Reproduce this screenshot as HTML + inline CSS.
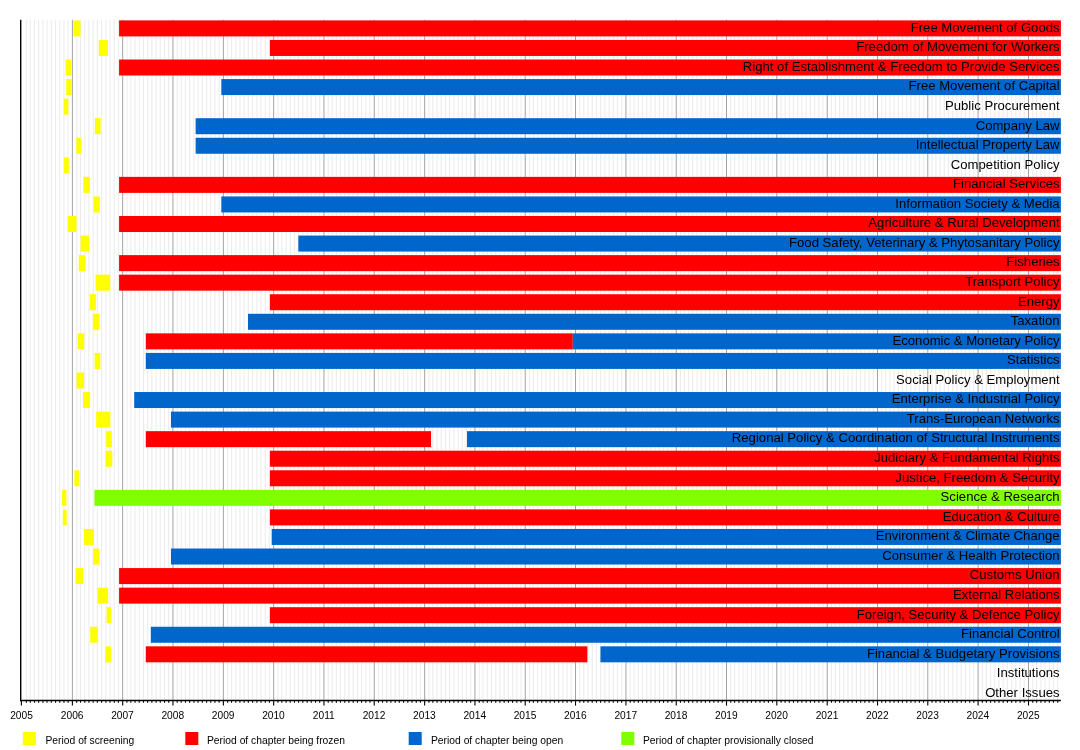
<!DOCTYPE html><html><head><meta charset="utf-8"><title>Timeline</title><style>html,body{margin:0;padding:0;background:#fff}svg{display:block}text{font-family:"Liberation Sans",sans-serif;fill:#000}</style></head><body>
<svg width="1080" height="750" viewBox="0 0 1080 750">
<rect width="1080" height="750" fill="#fff"/>
<g stroke="#ededed" stroke-width="1.1">
<line x1="26.37" y1="19.8" x2="26.37" y2="700.0"/>
<line x1="30.23" y1="19.8" x2="30.23" y2="700.0"/>
<line x1="34.50" y1="19.8" x2="34.50" y2="700.0"/>
<line x1="38.63" y1="19.8" x2="38.63" y2="700.0"/>
<line x1="42.90" y1="19.8" x2="42.90" y2="700.0"/>
<line x1="47.04" y1="19.8" x2="47.04" y2="700.0"/>
<line x1="51.31" y1="19.8" x2="51.31" y2="700.0"/>
<line x1="55.58" y1="19.8" x2="55.58" y2="700.0"/>
<line x1="59.71" y1="19.8" x2="59.71" y2="700.0"/>
<line x1="63.98" y1="19.8" x2="63.98" y2="700.0"/>
<line x1="68.11" y1="19.8" x2="68.11" y2="700.0"/>
<line x1="76.66" y1="19.8" x2="76.66" y2="700.0"/>
<line x1="80.51" y1="19.8" x2="80.51" y2="700.0"/>
<line x1="84.78" y1="19.8" x2="84.78" y2="700.0"/>
<line x1="88.92" y1="19.8" x2="88.92" y2="700.0"/>
<line x1="93.19" y1="19.8" x2="93.19" y2="700.0"/>
<line x1="97.32" y1="19.8" x2="97.32" y2="700.0"/>
<line x1="101.59" y1="19.8" x2="101.59" y2="700.0"/>
<line x1="105.86" y1="19.8" x2="105.86" y2="700.0"/>
<line x1="110.00" y1="19.8" x2="110.00" y2="700.0"/>
<line x1="114.27" y1="19.8" x2="114.27" y2="700.0"/>
<line x1="118.40" y1="19.8" x2="118.40" y2="700.0"/>
<line x1="126.94" y1="19.8" x2="126.94" y2="700.0"/>
<line x1="130.80" y1="19.8" x2="130.80" y2="700.0"/>
<line x1="135.07" y1="19.8" x2="135.07" y2="700.0"/>
<line x1="139.20" y1="19.8" x2="139.20" y2="700.0"/>
<line x1="143.47" y1="19.8" x2="143.47" y2="700.0"/>
<line x1="147.61" y1="19.8" x2="147.61" y2="700.0"/>
<line x1="151.88" y1="19.8" x2="151.88" y2="700.0"/>
<line x1="156.15" y1="19.8" x2="156.15" y2="700.0"/>
<line x1="160.28" y1="19.8" x2="160.28" y2="700.0"/>
<line x1="164.55" y1="19.8" x2="164.55" y2="700.0"/>
<line x1="168.69" y1="19.8" x2="168.69" y2="700.0"/>
<line x1="177.23" y1="19.8" x2="177.23" y2="700.0"/>
<line x1="181.22" y1="19.8" x2="181.22" y2="700.0"/>
<line x1="185.49" y1="19.8" x2="185.49" y2="700.0"/>
<line x1="189.63" y1="19.8" x2="189.63" y2="700.0"/>
<line x1="193.90" y1="19.8" x2="193.90" y2="700.0"/>
<line x1="198.03" y1="19.8" x2="198.03" y2="700.0"/>
<line x1="202.30" y1="19.8" x2="202.30" y2="700.0"/>
<line x1="206.57" y1="19.8" x2="206.57" y2="700.0"/>
<line x1="210.71" y1="19.8" x2="210.71" y2="700.0"/>
<line x1="214.98" y1="19.8" x2="214.98" y2="700.0"/>
<line x1="219.11" y1="19.8" x2="219.11" y2="700.0"/>
<line x1="227.65" y1="19.8" x2="227.65" y2="700.0"/>
<line x1="231.51" y1="19.8" x2="231.51" y2="700.0"/>
<line x1="235.78" y1="19.8" x2="235.78" y2="700.0"/>
<line x1="239.91" y1="19.8" x2="239.91" y2="700.0"/>
<line x1="244.18" y1="19.8" x2="244.18" y2="700.0"/>
<line x1="248.32" y1="19.8" x2="248.32" y2="700.0"/>
<line x1="252.59" y1="19.8" x2="252.59" y2="700.0"/>
<line x1="256.86" y1="19.8" x2="256.86" y2="700.0"/>
<line x1="260.99" y1="19.8" x2="260.99" y2="700.0"/>
<line x1="265.26" y1="19.8" x2="265.26" y2="700.0"/>
<line x1="269.39" y1="19.8" x2="269.39" y2="700.0"/>
<line x1="277.94" y1="19.8" x2="277.94" y2="700.0"/>
<line x1="281.79" y1="19.8" x2="281.79" y2="700.0"/>
<line x1="286.06" y1="19.8" x2="286.06" y2="700.0"/>
<line x1="290.20" y1="19.8" x2="290.20" y2="700.0"/>
<line x1="294.47" y1="19.8" x2="294.47" y2="700.0"/>
<line x1="298.60" y1="19.8" x2="298.60" y2="700.0"/>
<line x1="302.87" y1="19.8" x2="302.87" y2="700.0"/>
<line x1="307.14" y1="19.8" x2="307.14" y2="700.0"/>
<line x1="311.28" y1="19.8" x2="311.28" y2="700.0"/>
<line x1="315.55" y1="19.8" x2="315.55" y2="700.0"/>
<line x1="319.68" y1="19.8" x2="319.68" y2="700.0"/>
<line x1="328.22" y1="19.8" x2="328.22" y2="700.0"/>
<line x1="332.08" y1="19.8" x2="332.08" y2="700.0"/>
<line x1="336.35" y1="19.8" x2="336.35" y2="700.0"/>
<line x1="340.48" y1="19.8" x2="340.48" y2="700.0"/>
<line x1="344.75" y1="19.8" x2="344.75" y2="700.0"/>
<line x1="348.89" y1="19.8" x2="348.89" y2="700.0"/>
<line x1="353.16" y1="19.8" x2="353.16" y2="700.0"/>
<line x1="357.43" y1="19.8" x2="357.43" y2="700.0"/>
<line x1="361.56" y1="19.8" x2="361.56" y2="700.0"/>
<line x1="365.83" y1="19.8" x2="365.83" y2="700.0"/>
<line x1="369.97" y1="19.8" x2="369.97" y2="700.0"/>
<line x1="378.51" y1="19.8" x2="378.51" y2="700.0"/>
<line x1="382.50" y1="19.8" x2="382.50" y2="700.0"/>
<line x1="386.77" y1="19.8" x2="386.77" y2="700.0"/>
<line x1="390.91" y1="19.8" x2="390.91" y2="700.0"/>
<line x1="395.18" y1="19.8" x2="395.18" y2="700.0"/>
<line x1="399.31" y1="19.8" x2="399.31" y2="700.0"/>
<line x1="403.58" y1="19.8" x2="403.58" y2="700.0"/>
<line x1="407.85" y1="19.8" x2="407.85" y2="700.0"/>
<line x1="411.99" y1="19.8" x2="411.99" y2="700.0"/>
<line x1="416.26" y1="19.8" x2="416.26" y2="700.0"/>
<line x1="420.39" y1="19.8" x2="420.39" y2="700.0"/>
<line x1="428.93" y1="19.8" x2="428.93" y2="700.0"/>
<line x1="432.79" y1="19.8" x2="432.79" y2="700.0"/>
<line x1="437.06" y1="19.8" x2="437.06" y2="700.0"/>
<line x1="441.19" y1="19.8" x2="441.19" y2="700.0"/>
<line x1="445.46" y1="19.8" x2="445.46" y2="700.0"/>
<line x1="449.60" y1="19.8" x2="449.60" y2="700.0"/>
<line x1="453.87" y1="19.8" x2="453.87" y2="700.0"/>
<line x1="458.14" y1="19.8" x2="458.14" y2="700.0"/>
<line x1="462.27" y1="19.8" x2="462.27" y2="700.0"/>
<line x1="466.54" y1="19.8" x2="466.54" y2="700.0"/>
<line x1="470.67" y1="19.8" x2="470.67" y2="700.0"/>
<line x1="479.22" y1="19.8" x2="479.22" y2="700.0"/>
<line x1="483.07" y1="19.8" x2="483.07" y2="700.0"/>
<line x1="487.34" y1="19.8" x2="487.34" y2="700.0"/>
<line x1="491.48" y1="19.8" x2="491.48" y2="700.0"/>
<line x1="495.75" y1="19.8" x2="495.75" y2="700.0"/>
<line x1="499.88" y1="19.8" x2="499.88" y2="700.0"/>
<line x1="504.15" y1="19.8" x2="504.15" y2="700.0"/>
<line x1="508.42" y1="19.8" x2="508.42" y2="700.0"/>
<line x1="512.56" y1="19.8" x2="512.56" y2="700.0"/>
<line x1="516.83" y1="19.8" x2="516.83" y2="700.0"/>
<line x1="520.96" y1="19.8" x2="520.96" y2="700.0"/>
<line x1="529.50" y1="19.8" x2="529.50" y2="700.0"/>
<line x1="533.36" y1="19.8" x2="533.36" y2="700.0"/>
<line x1="537.63" y1="19.8" x2="537.63" y2="700.0"/>
<line x1="541.76" y1="19.8" x2="541.76" y2="700.0"/>
<line x1="546.03" y1="19.8" x2="546.03" y2="700.0"/>
<line x1="550.17" y1="19.8" x2="550.17" y2="700.0"/>
<line x1="554.44" y1="19.8" x2="554.44" y2="700.0"/>
<line x1="558.71" y1="19.8" x2="558.71" y2="700.0"/>
<line x1="562.84" y1="19.8" x2="562.84" y2="700.0"/>
<line x1="567.11" y1="19.8" x2="567.11" y2="700.0"/>
<line x1="571.25" y1="19.8" x2="571.25" y2="700.0"/>
<line x1="579.79" y1="19.8" x2="579.79" y2="700.0"/>
<line x1="583.78" y1="19.8" x2="583.78" y2="700.0"/>
<line x1="588.05" y1="19.8" x2="588.05" y2="700.0"/>
<line x1="592.19" y1="19.8" x2="592.19" y2="700.0"/>
<line x1="596.46" y1="19.8" x2="596.46" y2="700.0"/>
<line x1="600.59" y1="19.8" x2="600.59" y2="700.0"/>
<line x1="604.86" y1="19.8" x2="604.86" y2="700.0"/>
<line x1="609.13" y1="19.8" x2="609.13" y2="700.0"/>
<line x1="613.27" y1="19.8" x2="613.27" y2="700.0"/>
<line x1="617.54" y1="19.8" x2="617.54" y2="700.0"/>
<line x1="621.67" y1="19.8" x2="621.67" y2="700.0"/>
<line x1="630.21" y1="19.8" x2="630.21" y2="700.0"/>
<line x1="634.07" y1="19.8" x2="634.07" y2="700.0"/>
<line x1="638.34" y1="19.8" x2="638.34" y2="700.0"/>
<line x1="642.47" y1="19.8" x2="642.47" y2="700.0"/>
<line x1="646.74" y1="19.8" x2="646.74" y2="700.0"/>
<line x1="650.88" y1="19.8" x2="650.88" y2="700.0"/>
<line x1="655.15" y1="19.8" x2="655.15" y2="700.0"/>
<line x1="659.42" y1="19.8" x2="659.42" y2="700.0"/>
<line x1="663.55" y1="19.8" x2="663.55" y2="700.0"/>
<line x1="667.82" y1="19.8" x2="667.82" y2="700.0"/>
<line x1="671.95" y1="19.8" x2="671.95" y2="700.0"/>
<line x1="680.50" y1="19.8" x2="680.50" y2="700.0"/>
<line x1="684.35" y1="19.8" x2="684.35" y2="700.0"/>
<line x1="688.62" y1="19.8" x2="688.62" y2="700.0"/>
<line x1="692.76" y1="19.8" x2="692.76" y2="700.0"/>
<line x1="697.03" y1="19.8" x2="697.03" y2="700.0"/>
<line x1="701.16" y1="19.8" x2="701.16" y2="700.0"/>
<line x1="705.43" y1="19.8" x2="705.43" y2="700.0"/>
<line x1="709.70" y1="19.8" x2="709.70" y2="700.0"/>
<line x1="713.84" y1="19.8" x2="713.84" y2="700.0"/>
<line x1="718.11" y1="19.8" x2="718.11" y2="700.0"/>
<line x1="722.24" y1="19.8" x2="722.24" y2="700.0"/>
<line x1="730.78" y1="19.8" x2="730.78" y2="700.0"/>
<line x1="734.64" y1="19.8" x2="734.64" y2="700.0"/>
<line x1="738.91" y1="19.8" x2="738.91" y2="700.0"/>
<line x1="743.04" y1="19.8" x2="743.04" y2="700.0"/>
<line x1="747.31" y1="19.8" x2="747.31" y2="700.0"/>
<line x1="751.45" y1="19.8" x2="751.45" y2="700.0"/>
<line x1="755.72" y1="19.8" x2="755.72" y2="700.0"/>
<line x1="759.99" y1="19.8" x2="759.99" y2="700.0"/>
<line x1="764.12" y1="19.8" x2="764.12" y2="700.0"/>
<line x1="768.39" y1="19.8" x2="768.39" y2="700.0"/>
<line x1="772.53" y1="19.8" x2="772.53" y2="700.0"/>
<line x1="781.07" y1="19.8" x2="781.07" y2="700.0"/>
<line x1="785.06" y1="19.8" x2="785.06" y2="700.0"/>
<line x1="789.33" y1="19.8" x2="789.33" y2="700.0"/>
<line x1="793.47" y1="19.8" x2="793.47" y2="700.0"/>
<line x1="797.74" y1="19.8" x2="797.74" y2="700.0"/>
<line x1="801.87" y1="19.8" x2="801.87" y2="700.0"/>
<line x1="806.14" y1="19.8" x2="806.14" y2="700.0"/>
<line x1="810.41" y1="19.8" x2="810.41" y2="700.0"/>
<line x1="814.55" y1="19.8" x2="814.55" y2="700.0"/>
<line x1="818.82" y1="19.8" x2="818.82" y2="700.0"/>
<line x1="822.95" y1="19.8" x2="822.95" y2="700.0"/>
<line x1="831.49" y1="19.8" x2="831.49" y2="700.0"/>
<line x1="835.35" y1="19.8" x2="835.35" y2="700.0"/>
<line x1="839.62" y1="19.8" x2="839.62" y2="700.0"/>
<line x1="843.75" y1="19.8" x2="843.75" y2="700.0"/>
<line x1="848.02" y1="19.8" x2="848.02" y2="700.0"/>
<line x1="852.16" y1="19.8" x2="852.16" y2="700.0"/>
<line x1="856.43" y1="19.8" x2="856.43" y2="700.0"/>
<line x1="860.70" y1="19.8" x2="860.70" y2="700.0"/>
<line x1="864.83" y1="19.8" x2="864.83" y2="700.0"/>
<line x1="869.10" y1="19.8" x2="869.10" y2="700.0"/>
<line x1="873.23" y1="19.8" x2="873.23" y2="700.0"/>
<line x1="881.78" y1="19.8" x2="881.78" y2="700.0"/>
<line x1="885.63" y1="19.8" x2="885.63" y2="700.0"/>
<line x1="889.90" y1="19.8" x2="889.90" y2="700.0"/>
<line x1="894.04" y1="19.8" x2="894.04" y2="700.0"/>
<line x1="898.31" y1="19.8" x2="898.31" y2="700.0"/>
<line x1="902.44" y1="19.8" x2="902.44" y2="700.0"/>
<line x1="906.71" y1="19.8" x2="906.71" y2="700.0"/>
<line x1="910.98" y1="19.8" x2="910.98" y2="700.0"/>
<line x1="915.12" y1="19.8" x2="915.12" y2="700.0"/>
<line x1="919.39" y1="19.8" x2="919.39" y2="700.0"/>
<line x1="923.52" y1="19.8" x2="923.52" y2="700.0"/>
<line x1="932.06" y1="19.8" x2="932.06" y2="700.0"/>
<line x1="935.92" y1="19.8" x2="935.92" y2="700.0"/>
<line x1="940.19" y1="19.8" x2="940.19" y2="700.0"/>
<line x1="944.32" y1="19.8" x2="944.32" y2="700.0"/>
<line x1="948.59" y1="19.8" x2="948.59" y2="700.0"/>
<line x1="952.73" y1="19.8" x2="952.73" y2="700.0"/>
<line x1="957.00" y1="19.8" x2="957.00" y2="700.0"/>
<line x1="961.27" y1="19.8" x2="961.27" y2="700.0"/>
<line x1="965.40" y1="19.8" x2="965.40" y2="700.0"/>
<line x1="969.67" y1="19.8" x2="969.67" y2="700.0"/>
<line x1="973.81" y1="19.8" x2="973.81" y2="700.0"/>
<line x1="982.35" y1="19.8" x2="982.35" y2="700.0"/>
<line x1="986.34" y1="19.8" x2="986.34" y2="700.0"/>
<line x1="990.61" y1="19.8" x2="990.61" y2="700.0"/>
<line x1="994.75" y1="19.8" x2="994.75" y2="700.0"/>
<line x1="999.02" y1="19.8" x2="999.02" y2="700.0"/>
<line x1="1003.15" y1="19.8" x2="1003.15" y2="700.0"/>
<line x1="1007.42" y1="19.8" x2="1007.42" y2="700.0"/>
<line x1="1011.69" y1="19.8" x2="1011.69" y2="700.0"/>
<line x1="1015.83" y1="19.8" x2="1015.83" y2="700.0"/>
<line x1="1020.10" y1="19.8" x2="1020.10" y2="700.0"/>
<line x1="1024.23" y1="19.8" x2="1024.23" y2="700.0"/>
<line x1="1032.77" y1="19.8" x2="1032.77" y2="700.0"/>
<line x1="1036.63" y1="19.8" x2="1036.63" y2="700.0"/>
<line x1="1040.90" y1="19.8" x2="1040.90" y2="700.0"/>
<line x1="1045.03" y1="19.8" x2="1045.03" y2="700.0"/>
<line x1="1049.30" y1="19.8" x2="1049.30" y2="700.0"/>
<line x1="1053.44" y1="19.8" x2="1053.44" y2="700.0"/>
<line x1="1057.71" y1="19.8" x2="1057.71" y2="700.0"/>
</g>
<g stroke="#999" stroke-width="0.9">
<line x1="72.39" y1="19.8" x2="72.39" y2="700.0"/>
<line x1="122.67" y1="19.8" x2="122.67" y2="700.0"/>
<line x1="172.96" y1="19.8" x2="172.96" y2="700.0"/>
<line x1="223.38" y1="19.8" x2="223.38" y2="700.0"/>
<line x1="273.67" y1="19.8" x2="273.67" y2="700.0"/>
<line x1="323.95" y1="19.8" x2="323.95" y2="700.0"/>
<line x1="374.24" y1="19.8" x2="374.24" y2="700.0"/>
<line x1="424.66" y1="19.8" x2="424.66" y2="700.0"/>
<line x1="474.95" y1="19.8" x2="474.95" y2="700.0"/>
<line x1="525.23" y1="19.8" x2="525.23" y2="700.0"/>
<line x1="575.52" y1="19.8" x2="575.52" y2="700.0"/>
<line x1="625.94" y1="19.8" x2="625.94" y2="700.0"/>
<line x1="676.23" y1="19.8" x2="676.23" y2="700.0"/>
<line x1="726.51" y1="19.8" x2="726.51" y2="700.0"/>
<line x1="776.80" y1="19.8" x2="776.80" y2="700.0"/>
<line x1="827.22" y1="19.8" x2="827.22" y2="700.0"/>
<line x1="877.51" y1="19.8" x2="877.51" y2="700.0"/>
<line x1="927.79" y1="19.8" x2="927.79" y2="700.0"/>
<line x1="978.08" y1="19.8" x2="978.08" y2="700.0"/>
<line x1="1028.50" y1="19.8" x2="1028.50" y2="700.0"/>
</g>
<rect x="73.39" y="20.40" width="7.08" height="16.0" fill="#ffff00"/>
<rect x="119.09" y="20.40" width="941.81" height="16.0" fill="#ff0000"/>
<rect x="98.76" y="39.96" width="9.14" height="16.0" fill="#ffff00"/>
<rect x="269.90" y="39.96" width="791.00" height="16.0" fill="#ff0000"/>
<rect x="65.67" y="59.52" width="5.70" height="16.0" fill="#ffff00"/>
<rect x="119.09" y="59.52" width="941.81" height="16.0" fill="#ff0000"/>
<rect x="66.22" y="79.08" width="5.42" height="16.0" fill="#ffff00"/>
<rect x="221.31" y="79.08" width="839.59" height="16.0" fill="#0066cc"/>
<rect x="63.74" y="98.64" width="4.60" height="16.0" fill="#ffff00"/>
<rect x="94.90" y="118.20" width="5.70" height="16.0" fill="#ffff00"/>
<rect x="195.63" y="118.20" width="865.27" height="16.0" fill="#0066cc"/>
<rect x="76.28" y="137.76" width="5.15" height="16.0" fill="#ffff00"/>
<rect x="195.63" y="137.76" width="865.27" height="16.0" fill="#0066cc"/>
<rect x="63.88" y="157.32" width="5.01" height="16.0" fill="#ffff00"/>
<rect x="83.31" y="176.88" width="6.53" height="16.0" fill="#ffff00"/>
<rect x="119.09" y="176.88" width="941.81" height="16.0" fill="#ff0000"/>
<rect x="93.65" y="196.44" width="6.11" height="16.0" fill="#ffff00"/>
<rect x="221.31" y="196.44" width="839.59" height="16.0" fill="#0066cc"/>
<rect x="67.60" y="216.00" width="8.87" height="16.0" fill="#ffff00"/>
<rect x="119.09" y="216.00" width="941.81" height="16.0" fill="#ff0000"/>
<rect x="80.56" y="235.56" width="8.59" height="16.0" fill="#ffff00"/>
<rect x="298.35" y="235.56" width="762.55" height="16.0" fill="#0066cc"/>
<rect x="78.77" y="255.12" width="6.53" height="16.0" fill="#ffff00"/>
<rect x="119.09" y="255.12" width="941.81" height="16.0" fill="#ff0000"/>
<rect x="95.58" y="274.68" width="14.66" height="16.0" fill="#ffff00"/>
<rect x="119.09" y="274.68" width="941.81" height="16.0" fill="#ff0000"/>
<rect x="89.79" y="294.24" width="6.11" height="16.0" fill="#ffff00"/>
<rect x="269.90" y="294.24" width="791.00" height="16.0" fill="#ff0000"/>
<rect x="92.83" y="313.80" width="6.66" height="16.0" fill="#ffff00"/>
<rect x="248.00" y="313.80" width="812.90" height="16.0" fill="#0066cc"/>
<rect x="77.66" y="333.36" width="6.53" height="16.0" fill="#ffff00"/>
<rect x="145.78" y="333.36" width="427.01" height="16.0" fill="#ff0000"/>
<rect x="572.79" y="333.36" width="488.11" height="16.0" fill="#0066cc"/>
<rect x="94.62" y="352.92" width="5.70" height="16.0" fill="#ffff00"/>
<rect x="145.78" y="352.92" width="915.12" height="16.0" fill="#0066cc"/>
<rect x="76.56" y="372.48" width="7.49" height="16.0" fill="#ffff00"/>
<rect x="83.04" y="392.04" width="7.08" height="16.0" fill="#ffff00"/>
<rect x="134.20" y="392.04" width="926.70" height="16.0" fill="#0066cc"/>
<rect x="96.14" y="411.60" width="14.25" height="16.0" fill="#ffff00"/>
<rect x="170.95" y="411.60" width="889.95" height="16.0" fill="#0066cc"/>
<rect x="106.20" y="431.16" width="5.70" height="16.0" fill="#ffff00"/>
<rect x="145.78" y="431.16" width="285.26" height="16.0" fill="#ff0000"/>
<rect x="467.04" y="431.16" width="593.86" height="16.0" fill="#0066cc"/>
<rect x="105.65" y="450.72" width="6.66" height="16.0" fill="#ffff00"/>
<rect x="269.90" y="450.72" width="791.00" height="16.0" fill="#ff0000"/>
<rect x="74.35" y="470.28" width="4.87" height="16.0" fill="#ffff00"/>
<rect x="269.90" y="470.28" width="791.00" height="16.0" fill="#ff0000"/>
<rect x="61.95" y="489.84" width="4.46" height="16.0" fill="#ffff00"/>
<rect x="94.41" y="489.84" width="966.49" height="16.0" fill="#80ff00"/>
<rect x="62.77" y="509.40" width="3.91" height="16.0" fill="#ffff00"/>
<rect x="269.90" y="509.40" width="791.00" height="16.0" fill="#ff0000"/>
<rect x="84.00" y="528.96" width="9.97" height="16.0" fill="#ffff00"/>
<rect x="271.66" y="528.96" width="789.24" height="16.0" fill="#0066cc"/>
<rect x="93.10" y="548.52" width="6.25" height="16.0" fill="#ffff00"/>
<rect x="170.95" y="548.52" width="889.95" height="16.0" fill="#0066cc"/>
<rect x="75.46" y="568.08" width="7.49" height="16.0" fill="#ffff00"/>
<rect x="119.09" y="568.08" width="941.81" height="16.0" fill="#ff0000"/>
<rect x="97.51" y="587.64" width="10.66" height="16.0" fill="#ffff00"/>
<rect x="119.09" y="587.64" width="941.81" height="16.0" fill="#ff0000"/>
<rect x="106.61" y="607.20" width="4.73" height="16.0" fill="#ffff00"/>
<rect x="269.90" y="607.20" width="791.00" height="16.0" fill="#ff0000"/>
<rect x="90.21" y="626.76" width="7.63" height="16.0" fill="#ffff00"/>
<rect x="150.81" y="626.76" width="910.09" height="16.0" fill="#0066cc"/>
<rect x="105.51" y="646.32" width="5.56" height="16.0" fill="#ffff00"/>
<rect x="145.78" y="646.32" width="441.61" height="16.0" fill="#ff0000"/>
<rect x="600.48" y="646.32" width="460.42" height="16.0" fill="#0066cc"/>
<g font-size="12.5" text-anchor="end">
<text transform="translate(1059.6,31.70) scale(1.052,1)">Free Movement of Goods</text>
<text transform="translate(1059.6,51.26) scale(1.052,1)">Freedom of Movement for Workers</text>
<text transform="translate(1059.6,70.82) scale(1.052,1)">Right of Establishment &amp; Freedom to Provide Services</text>
<text transform="translate(1059.6,90.38) scale(1.052,1)">Free Movement of Capital</text>
<text transform="translate(1059.6,109.94) scale(1.052,1)">Public Procurement</text>
<text transform="translate(1059.6,129.50) scale(1.052,1)">Company Law</text>
<text transform="translate(1059.6,149.06) scale(1.052,1)">Intellectual Property Law</text>
<text transform="translate(1059.6,168.62) scale(1.052,1)">Competition Policy</text>
<text transform="translate(1059.6,188.18) scale(1.052,1)">Financial Services</text>
<text transform="translate(1059.6,207.74) scale(1.052,1)">Information Society &amp; Media</text>
<text transform="translate(1059.6,227.30) scale(1.052,1)">Agriculture &amp; Rural Development</text>
<text transform="translate(1059.6,246.86) scale(1.052,1)">Food Safety, Veterinary &amp; Phytosanitary Policy</text>
<text transform="translate(1059.6,266.42) scale(1.052,1)">Fisheries</text>
<text transform="translate(1059.6,285.98) scale(1.052,1)">Transport Policy</text>
<text transform="translate(1059.6,305.54) scale(1.052,1)">Energy</text>
<text transform="translate(1059.6,325.10) scale(1.052,1)">Taxation</text>
<text transform="translate(1059.6,344.66) scale(1.052,1)">Economic &amp; Monetary Policy</text>
<text transform="translate(1059.6,364.22) scale(1.052,1)">Statistics</text>
<text transform="translate(1059.6,383.78) scale(1.052,1)">Social Policy &amp; Employment</text>
<text transform="translate(1059.6,403.34) scale(1.052,1)">Enterprise &amp; Industrial Policy</text>
<text transform="translate(1059.6,422.90) scale(1.052,1)">Trans-European Networks</text>
<text transform="translate(1059.6,442.46) scale(1.052,1)">Regional Policy &amp; Coordination of Structural Instruments</text>
<text transform="translate(1059.6,462.02) scale(1.052,1)">Judiciary &amp; Fundamental Rights</text>
<text transform="translate(1059.6,481.58) scale(1.052,1)">Justice, Freedom &amp; Security</text>
<text transform="translate(1059.6,501.14) scale(1.052,1)">Science &amp; Research</text>
<text transform="translate(1059.6,520.70) scale(1.052,1)">Education &amp; Culture</text>
<text transform="translate(1059.6,540.26) scale(1.052,1)">Environment &amp; Climate Change</text>
<text transform="translate(1059.6,559.82) scale(1.052,1)">Consumer &amp; Health Protection</text>
<text transform="translate(1059.6,579.38) scale(1.052,1)">Customs Union</text>
<text transform="translate(1059.6,598.94) scale(1.052,1)">External Relations</text>
<text transform="translate(1059.6,618.50) scale(1.052,1)">Foreign, Security &amp; Defence Policy</text>
<text transform="translate(1059.6,638.06) scale(1.052,1)">Financial Control</text>
<text transform="translate(1059.6,657.62) scale(1.052,1)">Financial &amp; Budgetary Provisions</text>
<text transform="translate(1059.6,677.18) scale(1.052,1)">Institutions</text>
<text transform="translate(1059.6,696.74) scale(1.052,1)">Other Issues</text>
</g>
<line x1="20.7" y1="19.8" x2="20.7" y2="701.2" stroke="#000" stroke-width="1.4"/>
<line x1="20" y1="700.5" x2="1060.9" y2="700.5" stroke="#000" stroke-width="1.4"/>
<g stroke="#000" stroke-width="1.1">
<line x1="21.40" y1="700.0" x2="21.40" y2="705.6"/>
<line x1="26.37" y1="700.0" x2="26.37" y2="702.7"/>
<line x1="30.23" y1="700.0" x2="30.23" y2="702.7"/>
<line x1="34.50" y1="700.0" x2="34.50" y2="702.7"/>
<line x1="38.63" y1="700.0" x2="38.63" y2="702.7"/>
<line x1="42.90" y1="700.0" x2="42.90" y2="702.7"/>
<line x1="47.04" y1="700.0" x2="47.04" y2="702.7"/>
<line x1="51.31" y1="700.0" x2="51.31" y2="702.7"/>
<line x1="55.58" y1="700.0" x2="55.58" y2="702.7"/>
<line x1="59.71" y1="700.0" x2="59.71" y2="702.7"/>
<line x1="63.98" y1="700.0" x2="63.98" y2="702.7"/>
<line x1="68.11" y1="700.0" x2="68.11" y2="702.7"/>
<line x1="72.39" y1="700.0" x2="72.39" y2="705.6"/>
<line x1="76.66" y1="700.0" x2="76.66" y2="702.7"/>
<line x1="80.51" y1="700.0" x2="80.51" y2="702.7"/>
<line x1="84.78" y1="700.0" x2="84.78" y2="702.7"/>
<line x1="88.92" y1="700.0" x2="88.92" y2="702.7"/>
<line x1="93.19" y1="700.0" x2="93.19" y2="702.7"/>
<line x1="97.32" y1="700.0" x2="97.32" y2="702.7"/>
<line x1="101.59" y1="700.0" x2="101.59" y2="702.7"/>
<line x1="105.86" y1="700.0" x2="105.86" y2="702.7"/>
<line x1="110.00" y1="700.0" x2="110.00" y2="702.7"/>
<line x1="114.27" y1="700.0" x2="114.27" y2="702.7"/>
<line x1="118.40" y1="700.0" x2="118.40" y2="702.7"/>
<line x1="122.67" y1="700.0" x2="122.67" y2="705.6"/>
<line x1="126.94" y1="700.0" x2="126.94" y2="702.7"/>
<line x1="130.80" y1="700.0" x2="130.80" y2="702.7"/>
<line x1="135.07" y1="700.0" x2="135.07" y2="702.7"/>
<line x1="139.20" y1="700.0" x2="139.20" y2="702.7"/>
<line x1="143.47" y1="700.0" x2="143.47" y2="702.7"/>
<line x1="147.61" y1="700.0" x2="147.61" y2="702.7"/>
<line x1="151.88" y1="700.0" x2="151.88" y2="702.7"/>
<line x1="156.15" y1="700.0" x2="156.15" y2="702.7"/>
<line x1="160.28" y1="700.0" x2="160.28" y2="702.7"/>
<line x1="164.55" y1="700.0" x2="164.55" y2="702.7"/>
<line x1="168.69" y1="700.0" x2="168.69" y2="702.7"/>
<line x1="172.96" y1="700.0" x2="172.96" y2="705.6"/>
<line x1="177.23" y1="700.0" x2="177.23" y2="702.7"/>
<line x1="181.22" y1="700.0" x2="181.22" y2="702.7"/>
<line x1="185.49" y1="700.0" x2="185.49" y2="702.7"/>
<line x1="189.63" y1="700.0" x2="189.63" y2="702.7"/>
<line x1="193.90" y1="700.0" x2="193.90" y2="702.7"/>
<line x1="198.03" y1="700.0" x2="198.03" y2="702.7"/>
<line x1="202.30" y1="700.0" x2="202.30" y2="702.7"/>
<line x1="206.57" y1="700.0" x2="206.57" y2="702.7"/>
<line x1="210.71" y1="700.0" x2="210.71" y2="702.7"/>
<line x1="214.98" y1="700.0" x2="214.98" y2="702.7"/>
<line x1="219.11" y1="700.0" x2="219.11" y2="702.7"/>
<line x1="223.38" y1="700.0" x2="223.38" y2="705.6"/>
<line x1="227.65" y1="700.0" x2="227.65" y2="702.7"/>
<line x1="231.51" y1="700.0" x2="231.51" y2="702.7"/>
<line x1="235.78" y1="700.0" x2="235.78" y2="702.7"/>
<line x1="239.91" y1="700.0" x2="239.91" y2="702.7"/>
<line x1="244.18" y1="700.0" x2="244.18" y2="702.7"/>
<line x1="248.32" y1="700.0" x2="248.32" y2="702.7"/>
<line x1="252.59" y1="700.0" x2="252.59" y2="702.7"/>
<line x1="256.86" y1="700.0" x2="256.86" y2="702.7"/>
<line x1="260.99" y1="700.0" x2="260.99" y2="702.7"/>
<line x1="265.26" y1="700.0" x2="265.26" y2="702.7"/>
<line x1="269.39" y1="700.0" x2="269.39" y2="702.7"/>
<line x1="273.67" y1="700.0" x2="273.67" y2="705.6"/>
<line x1="277.94" y1="700.0" x2="277.94" y2="702.7"/>
<line x1="281.79" y1="700.0" x2="281.79" y2="702.7"/>
<line x1="286.06" y1="700.0" x2="286.06" y2="702.7"/>
<line x1="290.20" y1="700.0" x2="290.20" y2="702.7"/>
<line x1="294.47" y1="700.0" x2="294.47" y2="702.7"/>
<line x1="298.60" y1="700.0" x2="298.60" y2="702.7"/>
<line x1="302.87" y1="700.0" x2="302.87" y2="702.7"/>
<line x1="307.14" y1="700.0" x2="307.14" y2="702.7"/>
<line x1="311.28" y1="700.0" x2="311.28" y2="702.7"/>
<line x1="315.55" y1="700.0" x2="315.55" y2="702.7"/>
<line x1="319.68" y1="700.0" x2="319.68" y2="702.7"/>
<line x1="323.95" y1="700.0" x2="323.95" y2="705.6"/>
<line x1="328.22" y1="700.0" x2="328.22" y2="702.7"/>
<line x1="332.08" y1="700.0" x2="332.08" y2="702.7"/>
<line x1="336.35" y1="700.0" x2="336.35" y2="702.7"/>
<line x1="340.48" y1="700.0" x2="340.48" y2="702.7"/>
<line x1="344.75" y1="700.0" x2="344.75" y2="702.7"/>
<line x1="348.89" y1="700.0" x2="348.89" y2="702.7"/>
<line x1="353.16" y1="700.0" x2="353.16" y2="702.7"/>
<line x1="357.43" y1="700.0" x2="357.43" y2="702.7"/>
<line x1="361.56" y1="700.0" x2="361.56" y2="702.7"/>
<line x1="365.83" y1="700.0" x2="365.83" y2="702.7"/>
<line x1="369.97" y1="700.0" x2="369.97" y2="702.7"/>
<line x1="374.24" y1="700.0" x2="374.24" y2="705.6"/>
<line x1="378.51" y1="700.0" x2="378.51" y2="702.7"/>
<line x1="382.50" y1="700.0" x2="382.50" y2="702.7"/>
<line x1="386.77" y1="700.0" x2="386.77" y2="702.7"/>
<line x1="390.91" y1="700.0" x2="390.91" y2="702.7"/>
<line x1="395.18" y1="700.0" x2="395.18" y2="702.7"/>
<line x1="399.31" y1="700.0" x2="399.31" y2="702.7"/>
<line x1="403.58" y1="700.0" x2="403.58" y2="702.7"/>
<line x1="407.85" y1="700.0" x2="407.85" y2="702.7"/>
<line x1="411.99" y1="700.0" x2="411.99" y2="702.7"/>
<line x1="416.26" y1="700.0" x2="416.26" y2="702.7"/>
<line x1="420.39" y1="700.0" x2="420.39" y2="702.7"/>
<line x1="424.66" y1="700.0" x2="424.66" y2="705.6"/>
<line x1="428.93" y1="700.0" x2="428.93" y2="702.7"/>
<line x1="432.79" y1="700.0" x2="432.79" y2="702.7"/>
<line x1="437.06" y1="700.0" x2="437.06" y2="702.7"/>
<line x1="441.19" y1="700.0" x2="441.19" y2="702.7"/>
<line x1="445.46" y1="700.0" x2="445.46" y2="702.7"/>
<line x1="449.60" y1="700.0" x2="449.60" y2="702.7"/>
<line x1="453.87" y1="700.0" x2="453.87" y2="702.7"/>
<line x1="458.14" y1="700.0" x2="458.14" y2="702.7"/>
<line x1="462.27" y1="700.0" x2="462.27" y2="702.7"/>
<line x1="466.54" y1="700.0" x2="466.54" y2="702.7"/>
<line x1="470.67" y1="700.0" x2="470.67" y2="702.7"/>
<line x1="474.95" y1="700.0" x2="474.95" y2="705.6"/>
<line x1="479.22" y1="700.0" x2="479.22" y2="702.7"/>
<line x1="483.07" y1="700.0" x2="483.07" y2="702.7"/>
<line x1="487.34" y1="700.0" x2="487.34" y2="702.7"/>
<line x1="491.48" y1="700.0" x2="491.48" y2="702.7"/>
<line x1="495.75" y1="700.0" x2="495.75" y2="702.7"/>
<line x1="499.88" y1="700.0" x2="499.88" y2="702.7"/>
<line x1="504.15" y1="700.0" x2="504.15" y2="702.7"/>
<line x1="508.42" y1="700.0" x2="508.42" y2="702.7"/>
<line x1="512.56" y1="700.0" x2="512.56" y2="702.7"/>
<line x1="516.83" y1="700.0" x2="516.83" y2="702.7"/>
<line x1="520.96" y1="700.0" x2="520.96" y2="702.7"/>
<line x1="525.23" y1="700.0" x2="525.23" y2="705.6"/>
<line x1="529.50" y1="700.0" x2="529.50" y2="702.7"/>
<line x1="533.36" y1="700.0" x2="533.36" y2="702.7"/>
<line x1="537.63" y1="700.0" x2="537.63" y2="702.7"/>
<line x1="541.76" y1="700.0" x2="541.76" y2="702.7"/>
<line x1="546.03" y1="700.0" x2="546.03" y2="702.7"/>
<line x1="550.17" y1="700.0" x2="550.17" y2="702.7"/>
<line x1="554.44" y1="700.0" x2="554.44" y2="702.7"/>
<line x1="558.71" y1="700.0" x2="558.71" y2="702.7"/>
<line x1="562.84" y1="700.0" x2="562.84" y2="702.7"/>
<line x1="567.11" y1="700.0" x2="567.11" y2="702.7"/>
<line x1="571.25" y1="700.0" x2="571.25" y2="702.7"/>
<line x1="575.52" y1="700.0" x2="575.52" y2="705.6"/>
<line x1="579.79" y1="700.0" x2="579.79" y2="702.7"/>
<line x1="583.78" y1="700.0" x2="583.78" y2="702.7"/>
<line x1="588.05" y1="700.0" x2="588.05" y2="702.7"/>
<line x1="592.19" y1="700.0" x2="592.19" y2="702.7"/>
<line x1="596.46" y1="700.0" x2="596.46" y2="702.7"/>
<line x1="600.59" y1="700.0" x2="600.59" y2="702.7"/>
<line x1="604.86" y1="700.0" x2="604.86" y2="702.7"/>
<line x1="609.13" y1="700.0" x2="609.13" y2="702.7"/>
<line x1="613.27" y1="700.0" x2="613.27" y2="702.7"/>
<line x1="617.54" y1="700.0" x2="617.54" y2="702.7"/>
<line x1="621.67" y1="700.0" x2="621.67" y2="702.7"/>
<line x1="625.94" y1="700.0" x2="625.94" y2="705.6"/>
<line x1="630.21" y1="700.0" x2="630.21" y2="702.7"/>
<line x1="634.07" y1="700.0" x2="634.07" y2="702.7"/>
<line x1="638.34" y1="700.0" x2="638.34" y2="702.7"/>
<line x1="642.47" y1="700.0" x2="642.47" y2="702.7"/>
<line x1="646.74" y1="700.0" x2="646.74" y2="702.7"/>
<line x1="650.88" y1="700.0" x2="650.88" y2="702.7"/>
<line x1="655.15" y1="700.0" x2="655.15" y2="702.7"/>
<line x1="659.42" y1="700.0" x2="659.42" y2="702.7"/>
<line x1="663.55" y1="700.0" x2="663.55" y2="702.7"/>
<line x1="667.82" y1="700.0" x2="667.82" y2="702.7"/>
<line x1="671.95" y1="700.0" x2="671.95" y2="702.7"/>
<line x1="676.23" y1="700.0" x2="676.23" y2="705.6"/>
<line x1="680.50" y1="700.0" x2="680.50" y2="702.7"/>
<line x1="684.35" y1="700.0" x2="684.35" y2="702.7"/>
<line x1="688.62" y1="700.0" x2="688.62" y2="702.7"/>
<line x1="692.76" y1="700.0" x2="692.76" y2="702.7"/>
<line x1="697.03" y1="700.0" x2="697.03" y2="702.7"/>
<line x1="701.16" y1="700.0" x2="701.16" y2="702.7"/>
<line x1="705.43" y1="700.0" x2="705.43" y2="702.7"/>
<line x1="709.70" y1="700.0" x2="709.70" y2="702.7"/>
<line x1="713.84" y1="700.0" x2="713.84" y2="702.7"/>
<line x1="718.11" y1="700.0" x2="718.11" y2="702.7"/>
<line x1="722.24" y1="700.0" x2="722.24" y2="702.7"/>
<line x1="726.51" y1="700.0" x2="726.51" y2="705.6"/>
<line x1="730.78" y1="700.0" x2="730.78" y2="702.7"/>
<line x1="734.64" y1="700.0" x2="734.64" y2="702.7"/>
<line x1="738.91" y1="700.0" x2="738.91" y2="702.7"/>
<line x1="743.04" y1="700.0" x2="743.04" y2="702.7"/>
<line x1="747.31" y1="700.0" x2="747.31" y2="702.7"/>
<line x1="751.45" y1="700.0" x2="751.45" y2="702.7"/>
<line x1="755.72" y1="700.0" x2="755.72" y2="702.7"/>
<line x1="759.99" y1="700.0" x2="759.99" y2="702.7"/>
<line x1="764.12" y1="700.0" x2="764.12" y2="702.7"/>
<line x1="768.39" y1="700.0" x2="768.39" y2="702.7"/>
<line x1="772.53" y1="700.0" x2="772.53" y2="702.7"/>
<line x1="776.80" y1="700.0" x2="776.80" y2="705.6"/>
<line x1="781.07" y1="700.0" x2="781.07" y2="702.7"/>
<line x1="785.06" y1="700.0" x2="785.06" y2="702.7"/>
<line x1="789.33" y1="700.0" x2="789.33" y2="702.7"/>
<line x1="793.47" y1="700.0" x2="793.47" y2="702.7"/>
<line x1="797.74" y1="700.0" x2="797.74" y2="702.7"/>
<line x1="801.87" y1="700.0" x2="801.87" y2="702.7"/>
<line x1="806.14" y1="700.0" x2="806.14" y2="702.7"/>
<line x1="810.41" y1="700.0" x2="810.41" y2="702.7"/>
<line x1="814.55" y1="700.0" x2="814.55" y2="702.7"/>
<line x1="818.82" y1="700.0" x2="818.82" y2="702.7"/>
<line x1="822.95" y1="700.0" x2="822.95" y2="702.7"/>
<line x1="827.22" y1="700.0" x2="827.22" y2="705.6"/>
<line x1="831.49" y1="700.0" x2="831.49" y2="702.7"/>
<line x1="835.35" y1="700.0" x2="835.35" y2="702.7"/>
<line x1="839.62" y1="700.0" x2="839.62" y2="702.7"/>
<line x1="843.75" y1="700.0" x2="843.75" y2="702.7"/>
<line x1="848.02" y1="700.0" x2="848.02" y2="702.7"/>
<line x1="852.16" y1="700.0" x2="852.16" y2="702.7"/>
<line x1="856.43" y1="700.0" x2="856.43" y2="702.7"/>
<line x1="860.70" y1="700.0" x2="860.70" y2="702.7"/>
<line x1="864.83" y1="700.0" x2="864.83" y2="702.7"/>
<line x1="869.10" y1="700.0" x2="869.10" y2="702.7"/>
<line x1="873.23" y1="700.0" x2="873.23" y2="702.7"/>
<line x1="877.51" y1="700.0" x2="877.51" y2="705.6"/>
<line x1="881.78" y1="700.0" x2="881.78" y2="702.7"/>
<line x1="885.63" y1="700.0" x2="885.63" y2="702.7"/>
<line x1="889.90" y1="700.0" x2="889.90" y2="702.7"/>
<line x1="894.04" y1="700.0" x2="894.04" y2="702.7"/>
<line x1="898.31" y1="700.0" x2="898.31" y2="702.7"/>
<line x1="902.44" y1="700.0" x2="902.44" y2="702.7"/>
<line x1="906.71" y1="700.0" x2="906.71" y2="702.7"/>
<line x1="910.98" y1="700.0" x2="910.98" y2="702.7"/>
<line x1="915.12" y1="700.0" x2="915.12" y2="702.7"/>
<line x1="919.39" y1="700.0" x2="919.39" y2="702.7"/>
<line x1="923.52" y1="700.0" x2="923.52" y2="702.7"/>
<line x1="927.79" y1="700.0" x2="927.79" y2="705.6"/>
<line x1="932.06" y1="700.0" x2="932.06" y2="702.7"/>
<line x1="935.92" y1="700.0" x2="935.92" y2="702.7"/>
<line x1="940.19" y1="700.0" x2="940.19" y2="702.7"/>
<line x1="944.32" y1="700.0" x2="944.32" y2="702.7"/>
<line x1="948.59" y1="700.0" x2="948.59" y2="702.7"/>
<line x1="952.73" y1="700.0" x2="952.73" y2="702.7"/>
<line x1="957.00" y1="700.0" x2="957.00" y2="702.7"/>
<line x1="961.27" y1="700.0" x2="961.27" y2="702.7"/>
<line x1="965.40" y1="700.0" x2="965.40" y2="702.7"/>
<line x1="969.67" y1="700.0" x2="969.67" y2="702.7"/>
<line x1="973.81" y1="700.0" x2="973.81" y2="702.7"/>
<line x1="978.08" y1="700.0" x2="978.08" y2="705.6"/>
<line x1="982.35" y1="700.0" x2="982.35" y2="702.7"/>
<line x1="986.34" y1="700.0" x2="986.34" y2="702.7"/>
<line x1="990.61" y1="700.0" x2="990.61" y2="702.7"/>
<line x1="994.75" y1="700.0" x2="994.75" y2="702.7"/>
<line x1="999.02" y1="700.0" x2="999.02" y2="702.7"/>
<line x1="1003.15" y1="700.0" x2="1003.15" y2="702.7"/>
<line x1="1007.42" y1="700.0" x2="1007.42" y2="702.7"/>
<line x1="1011.69" y1="700.0" x2="1011.69" y2="702.7"/>
<line x1="1015.83" y1="700.0" x2="1015.83" y2="702.7"/>
<line x1="1020.10" y1="700.0" x2="1020.10" y2="702.7"/>
<line x1="1024.23" y1="700.0" x2="1024.23" y2="702.7"/>
<line x1="1028.50" y1="700.0" x2="1028.50" y2="705.6"/>
<line x1="1032.77" y1="700.0" x2="1032.77" y2="702.7"/>
<line x1="1036.63" y1="700.0" x2="1036.63" y2="702.7"/>
<line x1="1040.90" y1="700.0" x2="1040.90" y2="702.7"/>
<line x1="1045.03" y1="700.0" x2="1045.03" y2="702.7"/>
<line x1="1049.30" y1="700.0" x2="1049.30" y2="702.7"/>
<line x1="1053.44" y1="700.0" x2="1053.44" y2="702.7"/>
<line x1="1057.71" y1="700.0" x2="1057.71" y2="702.7"/>
</g>
<g font-size="10.2" text-anchor="middle">
<text x="21.50" y="718.5">2005</text>
<text x="72.19" y="718.5">2006</text>
<text x="122.47" y="718.5">2007</text>
<text x="172.76" y="718.5">2008</text>
<text x="223.18" y="718.5">2009</text>
<text x="273.47" y="718.5">2010</text>
<text x="323.75" y="718.5">2011</text>
<text x="374.04" y="718.5">2012</text>
<text x="424.46" y="718.5">2013</text>
<text x="474.75" y="718.5">2014</text>
<text x="525.03" y="718.5">2015</text>
<text x="575.32" y="718.5">2016</text>
<text x="625.74" y="718.5">2017</text>
<text x="676.03" y="718.5">2018</text>
<text x="726.31" y="718.5">2019</text>
<text x="776.60" y="718.5">2020</text>
<text x="827.02" y="718.5">2021</text>
<text x="877.31" y="718.5">2022</text>
<text x="927.59" y="718.5">2023</text>
<text x="977.88" y="718.5">2024</text>
<text x="1028.30" y="718.5">2025</text>
</g>
<g font-size="10.3">
<rect x="22.9" y="732" width="13" height="13" fill="#ffff00"/>
<text x="45.5" y="744">Period of screening</text>
<rect x="185.3" y="732" width="13" height="13" fill="#ff0000"/>
<text x="207" y="744">Period of chapter being frozen</text>
<rect x="408.7" y="732" width="13" height="13" fill="#0066cc"/>
<text x="431" y="744">Period of chapter being open</text>
<rect x="621.3" y="732" width="13" height="13" fill="#80ff00"/>
<text x="643" y="744">Period of chapter provisionally closed</text>
</g>
</svg></body></html>
